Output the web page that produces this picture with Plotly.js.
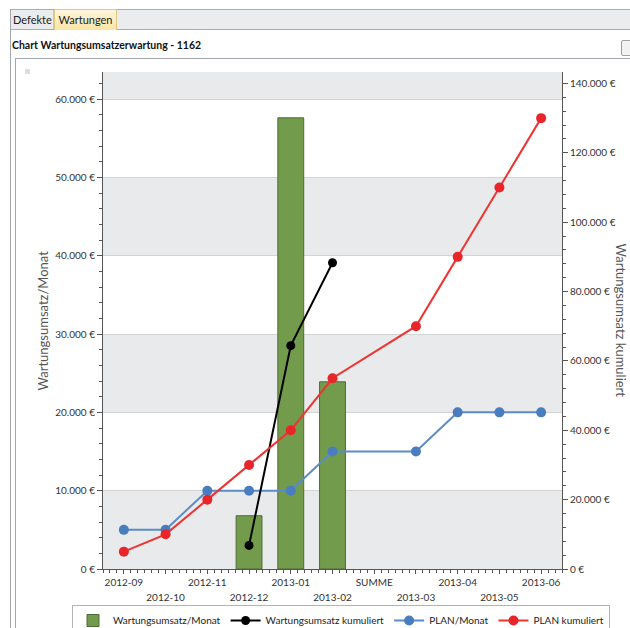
<!DOCTYPE html>
<html>
<head>
<meta charset="utf-8">
<script src="https://cdn.plot.ly/plotly-3.0.1.min.js"></script>
<style>
html,body{margin:0;padding:0;width:630px;height:628px;overflow:hidden;background:#fff;font-family:Lato,"Open Sans",sans-serif;}
#chrome{position:absolute;left:0;top:0;width:630px;height:628px;z-index:1;}
#chart{position:absolute;left:0;top:0;width:630px;height:660px;z-index:2;}
.strip{position:absolute;left:10px;top:9px;width:620px;height:19px;background:#ebecee;border-top:1px solid #a9adb3;border-bottom:1px solid #a9adb3;}
.tab{position:absolute;top:10px;height:19px;font-size:11px;line-height:19px;color:#222;}
#t1{left:11px;width:40px;padding-left:2px;border-right:1px solid #c4c6ca;}
#t2{left:54px;top:9px;height:20px;width:61px;background:linear-gradient(#fdf5dc,#fbe4a4);border:1px solid #e2c982;border-bottom:none;text-align:center;}
.vl{position:absolute;background:#a3a7ad;width:1px;}
.hl{position:absolute;background:#a3a7ad;height:1px;}
.dot{position:absolute;left:25px;top:69px;width:5px;height:5px;border-radius:1px;background:#dcdcdc;}
.icon{position:absolute;left:621px;top:40px;width:12px;height:14px;border:1px solid #a0a0a0;border-radius:2px;background:#f2f2f2;}
</style>
</head>
<body>
<div id="chrome">
  <div class="strip"></div>
  <div class="tab" id="t1">Defekte</div>
  <div class="tab" id="t2">Wartungen</div>
  <div class="vl" style="left:10px;top:9px;height:619px;"></div>
  <div class="hl" style="left:15px;top:58px;width:615px;"></div>
  <div class="vl" style="left:15px;top:58px;height:570px;"></div>
  <div class="dot"></div>
  <div class="icon"></div>
</div>
<div id="chart"></div>
<script>
const categories = ['2012-09','2012-10','2012-11','2012-12','2013-01','2013-02','SUMME','2013-03','2013-04','2013-05','2013-06'];
const umsatzMonat = [null,null,null,6800,57600,23900,null,null,null,null,null];
const umsatzKumuliert = [null,null,null,6800,64400,88300,null,null,null,null,null];
const planMonat = [5000,5000,10000,10000,10000,15000,null,15000,20000,20000,20000];
const planKumuliert = [5000,10000,20000,30000,40000,55000,null,70000,90000,110000,130000];
const seriesNames = ['Wartungsumsatz/Monat','Wartungsumsatz kumuliert','PLAN/Monat','PLAN kumuliert'];
const titleText = 'Chart Wartungsumsatzerwartung - 1162';

const leftMax = 63450, rightMax = 143300, leftStep = 10000;

const evenCats = categories.filter((c,i)=>i%2===0);
const oddIdx = categories.map((c,i)=>i).filter(i=>i%2===1);
const oddCats = oddIdx.map(i=>categories[i]);

const shapes = [];
for (let v = 0; v < leftMax; v += 2*leftStep) {
  shapes.push({type:'rect', xref:'paper', yref:'y', x0:0, x1:1, y0:v, y1:Math.min(v+leftStep, leftMax),
    fillcolor:'#e9eaec', line:{width:0}, layer:'below'});
}

const traces = [
  {type:'bar', x:categories, y:umsatzMonat, name:seriesNames[0], width:0.62,
   marker:{color:'#729b4b', line:{color:'#50693a', width:1}}, hoverinfo:'skip'},
  {type:'scatter', mode:'lines+markers', x:categories, y:umsatzKumuliert, yaxis:'y2', name:seriesNames[1],
   line:{color:'#000', width:2}, marker:{color:'#000', size:9}, hoverinfo:'skip'},
  {type:'scatter', mode:'lines+markers', x:categories, y:planMonat, name:seriesNames[2], connectgaps:true,
   line:{color:'#5b8bc9', width:2}, marker:{color:'#4a7cc0', size:10}, hoverinfo:'skip'},
  {type:'scatter', mode:'lines+markers', x:categories, y:planKumuliert, yaxis:'y2', name:seriesNames[3], connectgaps:true,
   line:{color:'#ee3333', width:2}, marker:{color:'#e8262a', size:10}, hoverinfo:'skip'},
  {type:'scatter', x:[], y:[], xaxis:'x2', showlegend:false, hoverinfo:'skip'}
];

const axisCol = '#555';
const W = 630, H = 660, ML = 103, MT = 72, MR = 68, PB = 569;
const plotW = W - ML - MR, plotH = PB - MT;
const layout = {
  width:W, height:H,
  margin:{l:ML, r:MR, t:MT, b:H-PB},
  paper_bgcolor:'rgba(0,0,0,0)', plot_bgcolor:'#fff',
  separators:',.',
  font:{family:'Lato, "Open Sans", sans-serif', size:10, color:'#333'},
  title:{text:titleText, xref:'container', yref:'container', x:12/W, xanchor:'left', y:1-45/H, yanchor:'middle',
         font:{size:10.5, color:'#111', weight:'bold'}},
  showlegend:true,
  legend:{orientation:'h', x:(72-ML)/plotW, xanchor:'left', y:-(605-PB)/plotH, yanchor:'top', bordercolor:'#b4b4b4', borderwidth:1,
          bgcolor:'#fff', font:{size:10, color:'#222'}, itemwidth:30, traceorder:'normal'},
  xaxis:{type:'category', categoryorder:'array', categoryarray:categories, range:[-0.5,10.5],
         tickmode:'array', tickvals:evenCats, ticktext:evenCats, ticks:'outside', ticklen:4, tickcolor:axisCol,
         showline:true, linecolor:axisCol, showgrid:false, zeroline:false, fixedrange:true},
  xaxis2:{overlaying:'x', anchor:'y', side:'bottom', type:'linear', range:[-0.5,10.5],
          tickmode:'array', tickvals:oddIdx, ticktext:oddCats, ticks:'outside', ticklen:4, tickcolor:axisCol,
          ticklabelstandoff:15,
          minor:{tickmode:'linear', tick0:0, dtick:1/6, ticks:'outside', ticklen:3, tickcolor:axisCol, showgrid:false},
          showgrid:false, zeroline:false, showline:false, fixedrange:true},
  yaxis:{range:[0,leftMax], tickmode:'linear', tick0:0, dtick:leftStep, tickformat:',d', ticksuffix:' €',
         ticks:'outside', ticklen:5, tickcolor:axisCol,
         minor:{tickmode:'linear', tick0:0, dtick:2000, ticks:'outside', ticklen:3, tickcolor:axisCol, showgrid:false},
         showline:true, linecolor:axisCol, gridcolor:'#d3d3d3', zeroline:false, fixedrange:true},
  yaxis2:{overlaying:'y', side:'right', anchor:'x', range:[0,rightMax], tickmode:'linear', tick0:0, dtick:20000,
          tickformat:',d', ticksuffix:' €', ticks:'outside', ticklen:5, tickcolor:axisCol,
          minor:{tickmode:'linear', tick0:0, dtick:4000, ticks:'outside', ticklen:3, tickcolor:axisCol, showgrid:false},
          showline:true, linecolor:axisCol, showgrid:false, zeroline:false, fixedrange:true},
  shapes:shapes,
  annotations:[
    {text:seriesNames[0], xref:'paper', yref:'paper', x:(42-ML)/plotW, y:0.5, xanchor:'center', yanchor:'middle',
     textangle:-90, showarrow:false, font:{size:13, color:'#555'}},
    {text:seriesNames[1], xref:'paper', yref:'paper', x:(621-ML)/plotW, y:0.5, xanchor:'center', yanchor:'middle',
     textangle:90, showarrow:false, font:{size:13, color:'#555'}}
  ]
};

Plotly.newPlot('chart', traces, layout, {staticPlot:true, displayModeBar:false});
</script>
</body>
</html>
